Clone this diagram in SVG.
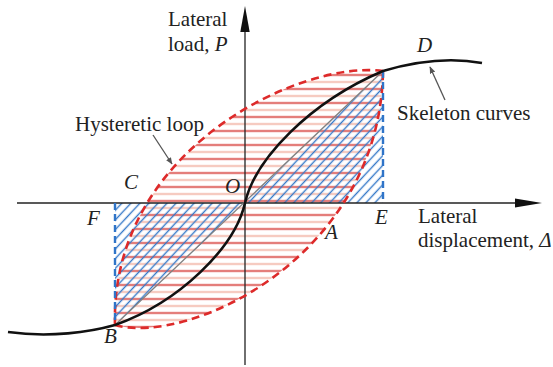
<svg xmlns="http://www.w3.org/2000/svg" width="553" height="367" viewBox="0 0 553 367">
<style>
text{font-family:"Liberation Serif","Times New Roman",serif;font-size:21px;fill:#222}
.it{font-style:italic}
.axis{stroke:#222;stroke-width:1.3;fill:none}
.loop{stroke:#dd2a2a;stroke-width:2.6;fill:none;stroke-dasharray:8 5}
.bdash{stroke:#2f74c8;stroke-width:2.4;fill:none;stroke-dasharray:7 4}
.skel{stroke:#111;stroke-width:2.6;fill:none}
.diag{stroke:#808080;stroke-width:1.3;fill:none}
.pointer{stroke:#555;stroke-width:1.3;fill:none}
</style>
<defs>
<pattern id="redHatch" patternUnits="userSpaceOnUse" x="0" y="1.5" width="553" height="14">
<line x1="0" y1="3.5" x2="553" y2="3.5" stroke="#d4302c" stroke-width="1.3"/>
<line x1="0" y1="10.5" x2="553" y2="10.5" stroke="#f0ab9b" stroke-width="1.6"/>
</pattern>
<pattern id="blueHatch" patternUnits="userSpaceOnUse" width="20" height="6.6" patternTransform="rotate(-47)">
<line x1="0" y1="3.3" x2="20" y2="3.3" stroke="#3478c8" stroke-width="1.4"/>
</pattern>
<marker id="arr" viewBox="0 0 10 10" refX="9" refY="5" markerWidth="7" markerHeight="7" orient="auto" markerUnits="userSpaceOnUse">
<path d="M0,1 L10,5 L0,9 Z" fill="#555"/>
</marker>
</defs>

<g id="hatching">
<path d="M383,71 C300,60 110,150 115,325 C190,346 380,256 383,71 Z" fill="url(#redHatch)"/>
<path d="M245,203 L383,203 L383,71 Z M115,203 L245,203 L115,325 Z" fill="url(#blueHatch)"/>
</g>

<g id="axes">
<line class="axis" x1="245" y1="30" x2="245" y2="365"/>
<polygon points="245,6 249.7,32 240.3,32" fill="#111"/>
<line class="axis" x1="17" y1="203" x2="517" y2="203"/>
<polygon points="542,203 515,198.5 515,207.5" fill="#111"/>
</g>

<g id="connectors">
<line class="diag" x1="115" y1="325" x2="383" y2="71"/>
<path class="loop" d="M383,71 C300,60 110,150 115,325"/>
<path class="loop" d="M115,325 C190,346 380,256 383,71"/>
<line class="bdash" x1="115" y1="203" x2="115" y2="325"/>
<line class="bdash" x1="383" y1="71" x2="383" y2="203"/>
<path class="skel" d="M8,332 C50,338 90,332 115,325 C180,302 235,247 245,203 C255,159 310,102 383,71 C420,60 455,58 482,63"/>
<line class="pointer" x1="153" y1="135" x2="172" y2="164" marker-end="url(#arr)"/>
<line class="pointer" x1="445" y1="100" x2="430" y2="67" marker-end="url(#arr)"/>
</g>

<g id="labels">
<text x="168" y="26">Lateral</text>
<text x="168" y="51">load, <tspan class="it">P</tspan></text>
<text x="75" y="131">Hysteretic loop</text>
<text x="397" y="120">Skeleton curves</text>
<text class="it" x="417" y="52">D</text>
<text class="it" x="124" y="189">C</text>
<text class="it" x="225" y="193">O</text>
<text class="it" x="87" y="225">F</text>
<text class="it" x="104" y="343">B</text>
<text class="it" x="375" y="224">E</text>
<text class="it" x="325" y="239">A</text>
<text x="418" y="223">Lateral</text>
<text x="418" y="247">displacement, <tspan class="it">Δ</tspan></text>
</g>
</svg>
